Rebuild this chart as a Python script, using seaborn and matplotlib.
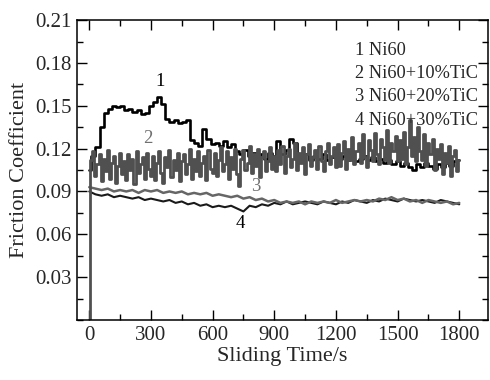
import numpy as np
import pandas as pd
import matplotlib
matplotlib.use("Agg")
import matplotlib.pyplot as plt
import seaborn as sns
from matplotlib.ticker import MultipleLocator

# sliding time grids (s)
time_1 = np.arange(0, 1801, 20)
time_2 = np.arange(0, 1801, 10)
time_34 = np.arange(0, 1801, 30)

# 1 Ni60
mu_ni60 = [
    0.105, 0.115, 0.121, 0.135, 0.145, 0.148, 0.150, 0.149, 0.150, 0.147,
    0.148, 0.146, 0.147, 0.144, 0.145, 0.150, 0.153, 0.156, 0.151, 0.141,
    0.139, 0.140, 0.138, 0.139, 0.140, 0.126, 0.124, 0.122, 0.134, 0.127,
    0.123, 0.124, 0.122, 0.125, 0.121, 0.123, 0.118, 0.116, 0.119, 0.115,
    0.117, 0.114, 0.116, 0.113, 0.117, 0.115, 0.125, 0.116, 0.119, 0.127,
    0.124, 0.115, 0.113, 0.116, 0.112, 0.115, 0.113, 0.116, 0.112, 0.114,
    0.116, 0.113, 0.115, 0.112, 0.114, 0.111, 0.113, 0.115, 0.112, 0.114,
    0.111, 0.113, 0.110, 0.112, 0.109, 0.111, 0.108, 0.110, 0.107, 0.105,
    0.109, 0.107, 0.110, 0.108, 0.106, 0.109, 0.107, 0.110, 0.108, 0.111,
    0.112,
]

# 2 Ni60+10%TiC
mu_tic10 = [
    0.0,
    0.112, 0.118, 0.101, 0.109, 0.116, 0.097, 0.113, 0.104, 0.119, 0.099,
    0.110, 0.115, 0.096, 0.108, 0.117, 0.102, 0.111, 0.098, 0.116, 0.105,
    0.113, 0.095, 0.118, 0.103, 0.109, 0.114, 0.099, 0.117, 0.106, 0.101,
    0.115, 0.098, 0.110, 0.118, 0.103, 0.096, 0.114, 0.107, 0.119, 0.100,
    0.112, 0.105, 0.117, 0.097, 0.111, 0.116, 0.102, 0.109, 0.120, 0.099,
    0.113, 0.104, 0.118, 0.101, 0.110, 0.115, 0.098, 0.119, 0.106, 0.103,
    0.117, 0.101, 0.112, 0.121, 0.104, 0.109, 0.118, 0.099, 0.114, 0.106,
    0.120, 0.102, 0.094, 0.113, 0.119, 0.105, 0.110, 0.122, 0.103, 0.116,
    0.108, 0.120, 0.100, 0.114, 0.118, 0.104, 0.111, 0.121, 0.106, 0.115,
    0.104, 0.119, 0.109, 0.122, 0.103, 0.115, 0.120, 0.107, 0.113, 0.124,
    0.105, 0.117, 0.110, 0.121, 0.102, 0.116, 0.123, 0.108, 0.114, 0.119,
    0.106, 0.122, 0.111, 0.104, 0.118, 0.124, 0.109, 0.115, 0.121, 0.107,
    0.123, 0.108, 0.117, 0.125, 0.106, 0.120, 0.112, 0.128, 0.109, 0.118,
    0.124, 0.110, 0.130, 0.114, 0.107, 0.126, 0.119, 0.111, 0.131, 0.116,
    0.109, 0.127, 0.121, 0.112, 0.133, 0.110, 0.124, 0.118, 0.129, 0.111,
    0.126, 0.113, 0.132, 0.109, 0.121, 0.140, 0.115, 0.128, 0.111, 0.135,
    0.118, 0.112, 0.130, 0.108, 0.124, 0.116, 0.127, 0.105, 0.120, 0.113,
    0.123, 0.102, 0.117, 0.110, 0.122, 0.101, 0.115, 0.119, 0.104, 0.112,
]

# 3 Ni60+20%TiC
mu_tic20 = [
    0.093, 0.092, 0.091, 0.092, 0.090, 0.091, 0.090, 0.091, 0.089, 0.091,
    0.090, 0.091, 0.089, 0.090, 0.089, 0.090, 0.088, 0.089, 0.088, 0.089,
    0.087, 0.088, 0.087, 0.086, 0.087, 0.085, 0.086, 0.084, 0.085, 0.083,
    0.084, 0.082, 0.083, 0.082, 0.083, 0.081, 0.083, 0.082, 0.083, 0.082,
    0.084, 0.082, 0.083, 0.084, 0.083, 0.084, 0.083, 0.085, 0.084, 0.086,
    0.084, 0.085, 0.083, 0.084, 0.082, 0.084, 0.083, 0.082, 0.083, 0.081,
    0.082,
]

# 4 Ni60+30%TiC
mu_tic30 = [
    0.090, 0.088, 0.087, 0.088, 0.086, 0.087, 0.086, 0.085, 0.086, 0.084,
    0.085, 0.084, 0.083, 0.084, 0.082, 0.083, 0.081, 0.082, 0.080, 0.081,
    0.079, 0.080, 0.079, 0.080, 0.078, 0.076, 0.080, 0.079, 0.081, 0.080,
    0.082, 0.081, 0.083, 0.081, 0.082, 0.083, 0.082, 0.081, 0.083, 0.082,
    0.081, 0.083, 0.082, 0.084, 0.083, 0.082, 0.084, 0.083, 0.085, 0.084,
    0.083, 0.085, 0.084, 0.083, 0.084, 0.083, 0.082, 0.084, 0.083, 0.082,
    0.081,
]

legend_lines = ["1 Ni60", "2 Ni60+10%TiC", "3 Ni60+20%TiC", "4 Ni60+30%TiC"]

sns.set_style("ticks")
plt.rcParams["font.family"] = ["Liberation Serif", "DejaVu Serif"]

fig = plt.figure(figsize=(4.9, 3.8), dpi=100)
ax = fig.add_axes([0.157, 0.158, 0.839, 0.789])

# draw order so that curve 2 sits on top of curve 1
sns.lineplot(x=time_34, y=mu_tic30, ax=ax, color="#1a1a1a", linewidth=1.5, estimator=None)
sns.lineplot(x=time_34, y=mu_tic20, ax=ax, color="#666666", linewidth=1.8, estimator=None)
sns.lineplot(x=time_1, y=mu_ni60, ax=ax, color="black", linewidth=1.9, estimator=None,
             drawstyle="steps-mid")
sns.lineplot(x=time_2, y=mu_tic10, ax=ax, color="#505050", linewidth=2.0, estimator=None,
             drawstyle="steps-mid")

# curve numbers
ax.text(345, 0.167, "1", fontsize=13.5, color="black", ha="center", va="center")
ax.text(285, 0.127, "2", fontsize=13.5, color="#707070", ha="center", va="center")
ax.text(808, 0.0935, "3", fontsize=13.5, color="#707070", ha="center", va="center")
ax.text(735, 0.0677, "4", fontsize=13.5, color="black", ha="center", va="center")

# legend block as plain text
for i, s in enumerate(legend_lines):
    ax.text(0.677, 0.9 - i * 0.078, s, transform=ax.transAxes, fontsize=13.2,
            ha="left", va="center")

ax.set_xlim(-60, 1940)
ax.set_ylim(0, 0.21)
ax.xaxis.set_major_locator(MultipleLocator(300))
ax.xaxis.set_minor_locator(MultipleLocator(150))
ax.yaxis.set_minor_locator(MultipleLocator(0.015))
ax.set_yticks([0.03, 0.06, 0.09, 0.12, 0.15, 0.18, 0.21])
ax.set_yticklabels(["0.03", "0.06", "0.09", "0.12", "0.15", "0.18", "0.21"])
ax.tick_params(which="both", direction="in", top=True, right=True, labelsize=15,
               width=1, color="black", pad=4)
ax.tick_params(which="major", length=7)
ax.tick_params(which="minor", length=4)
for sp in ax.spines.values():
    sp.set_visible(True)
    sp.set_linewidth(1.1)
    sp.set_color("black")

ax.set_xlabel("Sliding Time/s", fontsize=16, labelpad=2)
ax.set_ylabel("Friction Coefficient", fontsize=16, labelpad=4)

fig.savefig("out.png", dpi=100)
